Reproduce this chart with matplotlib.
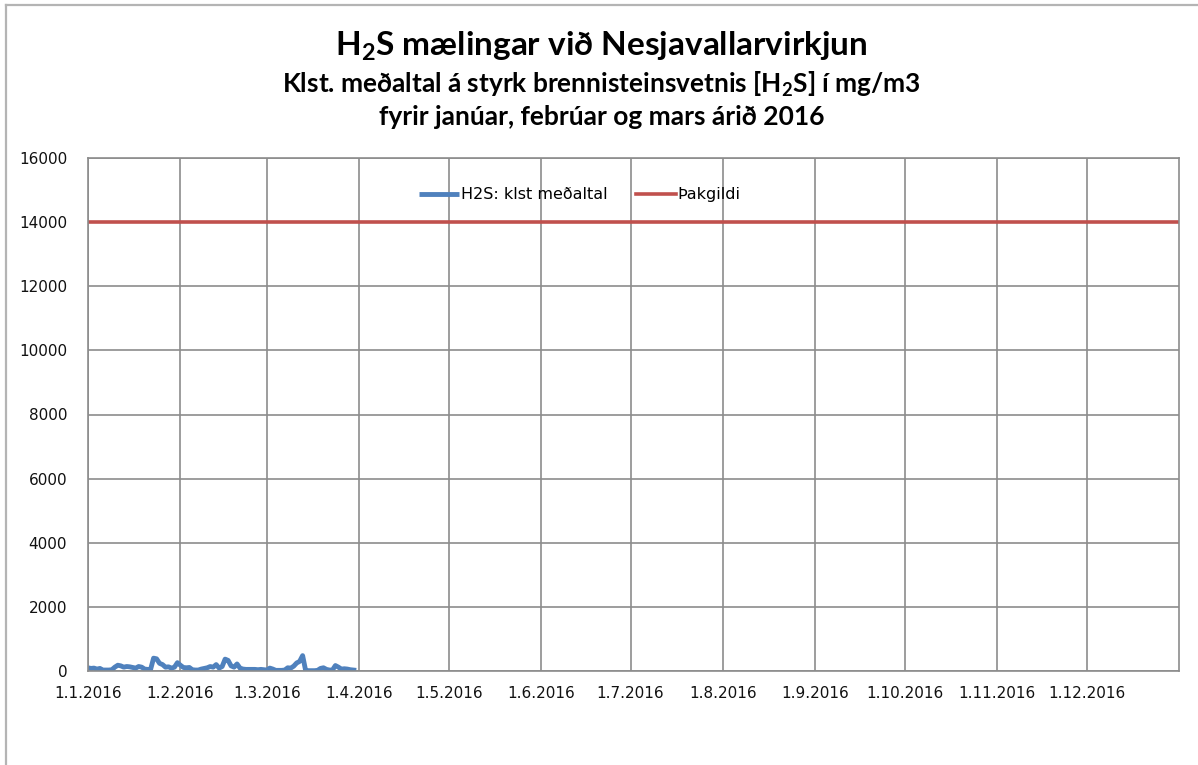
import numpy as np
import matplotlib
matplotlib.use("Agg")
import matplotlib.pyplot as plt
import matplotlib.dates as mdates
from matplotlib.ticker import FuncFormatter
from matplotlib.lines import Line2D

# ---- data ----
start_date = "2016-01-01"
jan_values = [100, 80, 90, 60, 80, 30, 30, 30, 40, 120, 180, 160, 120, 140, 130, 110,
              90, 140, 120, 60, 50, 50, 400, 380, 240, 200, 120, 130, 90, 120, 260]
feb_values = [180, 110, 100, 110, 40, 30, 30, 60, 80, 100, 140, 120, 200, 90, 140,
              370, 330, 160, 120, 220, 90, 60, 50, 50, 50, 50, 40, 50, 40]
mar_values = [30, 90, 60, 20, 20, 20, 30, 100, 90, 150, 250, 300, 480, 20, 10, 10,
              10, 20, 80, 100, 50, 30, 30, 170, 120, 60, 70, 60, 40, 30, 20]
h2s_values = jan_values + feb_values + mar_values
threshold_value = 14000
threshold_span = ["2016-01-01", "2017-01-01"]
series_labels = ["H2S: klst meðaltal", "Þakgildi"]
title_lines = ["H$_2$S mælingar við Nesjavallarvirkjun",
               "Klst. meðaltal á styrk brennisteinsvetnis [H$_2$S] í mg/m3",
               "fyrir janúar, febrúar og mars árið 2016"]
y_ticks = [0, 2000, 4000, 6000, 8000, 10000, 12000, 14000, 16000]
x_tick_months = ["2016-%02d-01" % m for m in range(1, 13)]

dates = np.datetime64(start_date) + np.arange(len(h2s_values)).astype("timedelta64[D]")
thr_dates = np.array(threshold_span, dtype="datetime64[D]")

plt.rcParams["mathtext.fontset"] = "custom"
plt.rcParams["mathtext.bf"] = "Lato:bold"
plt.rcParams["mathtext.rm"] = "Lato:bold"
plt.rcParams["mathtext.default"] = "bf"

fig = plt.figure(figsize=(11.98, 7.65), dpi=100)
ax = fig.add_axes([88/1198, 1-671/765, (1179-88)/1198, (671-158)/765])

blue = "#4F81BD"
red = "#C0504D"
ax.plot(dates, h2s_values, color=blue, lw=3.5, label=series_labels[0],
        solid_joinstyle="round", solid_capstyle="butt")
ax.plot(thr_dates, [threshold_value, threshold_value], color=red, lw=2.6, label=series_labels[1])

ax.set_xlim(np.datetime64("2016-01-01"), np.datetime64("2017-01-01"))
ax.set_ylim(0, 16000)
ax.set_yticks(y_ticks)
ax.set_xticks(mdates.date2num(np.array(x_tick_months, dtype="datetime64[D]")))
ax.xaxis.set_major_formatter(FuncFormatter(
    lambda x, p: (lambda d: f"{d.day}.{d.month}.{d.year}")(mdates.num2date(x))))
ax.xaxis.grid(True, color="#8c8c8c", lw=1.2)
ax.yaxis.grid(True, color="#8c8c8c", lw=1.2)
ax.set_axisbelow(True)
for s in ax.spines.values():
    s.set_color("#8c8c8c")
    s.set_linewidth(1.2)
ax.tick_params(axis="both", length=0, labelsize=11, labelcolor="#111111")
ax.tick_params(axis="y", pad=15)
ax.tick_params(axis="x", pad=11)

leg = ax.legend(loc="center", bbox_to_anchor=(0.451, 0.928), ncol=2, frameon=False,
                fontsize=11.5, handlelength=2.5, handletextpad=0.12, columnspacing=1.75)

fig.text(601/1198, 1-46/765, title_lines[0], ha="center", va="center",
         family="Lato", weight="bold", fontsize=24)
fig.text(601/1198, 1-84/765, title_lines[1], ha="center", va="center",
         family="Lato", weight="bold", fontsize=18.9)
fig.text(602/1198, 1-117/765, title_lines[2], ha="center", va="center",
         family="Lato", weight="bold", fontsize=19)

# outer chart frame (left and top edges visible)
fig.add_artist(Line2D([6/1198, 6/1198], [0, 1-5/765], transform=fig.transFigure, color="#b4b4b4", lw=1.6))
fig.add_artist(Line2D([6/1198, 1], [1-5/765, 1-5/765], transform=fig.transFigure, color="#b4b4b4", lw=1.6))

fig.savefig("out.png", dpi=100)
